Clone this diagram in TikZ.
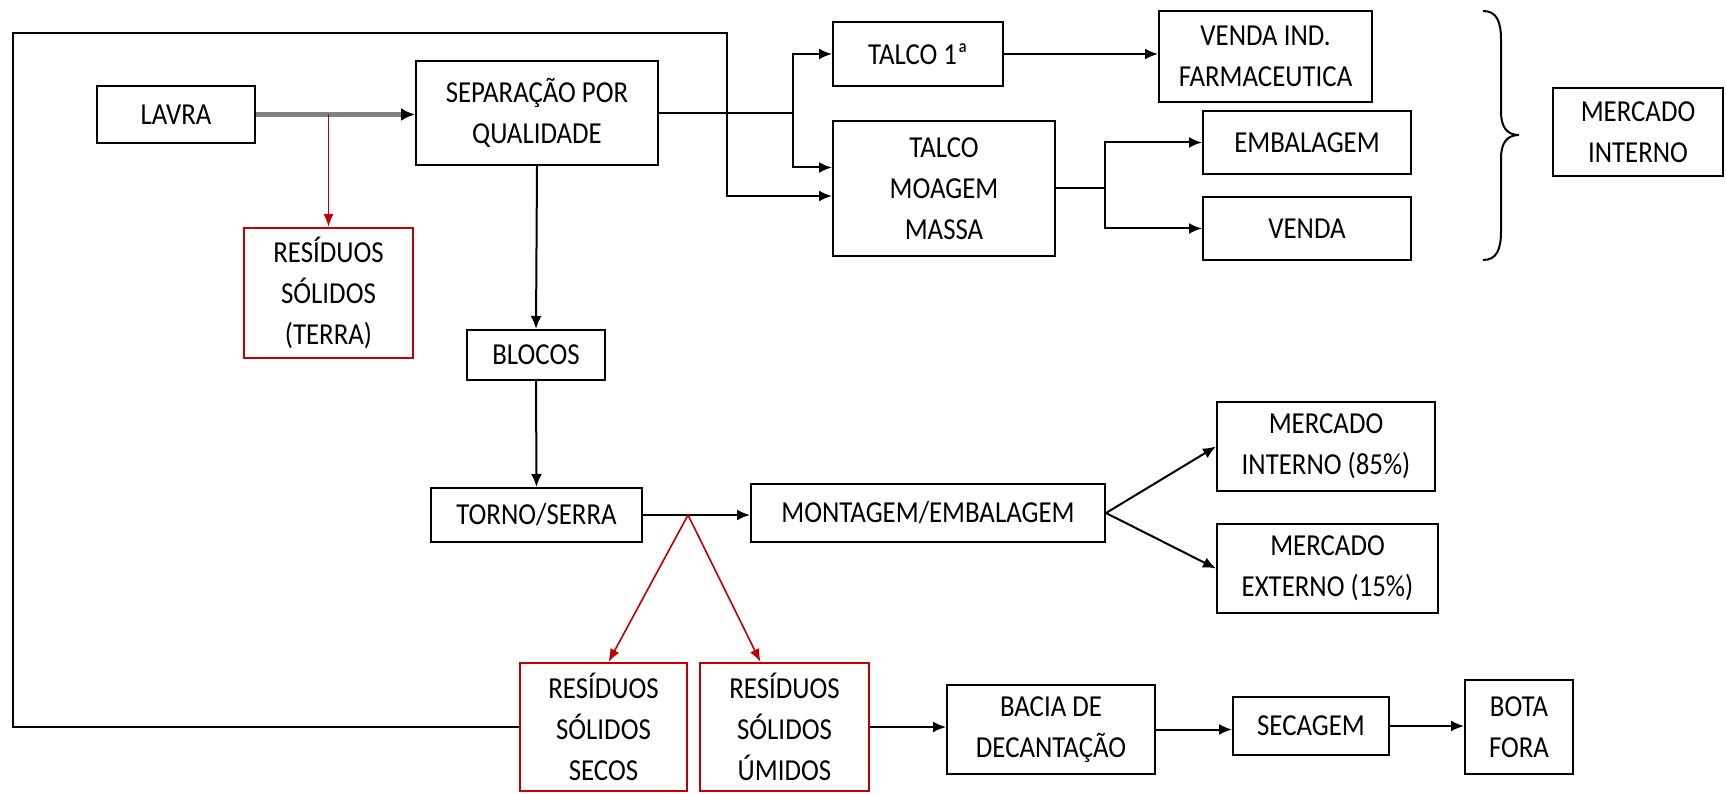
\documentclass[tikz,border=0pt]{standalone}
\usepackage{fontspec}
\setmainfont{Carlito}[FakeStretch=0.88]
\usetikzlibrary{arrows.meta,calc}
\definecolor{resred}{RGB}{192,0,0}
\begin{document}
\begin{tikzpicture}[x=1pt,y=-1pt,
  box/.style={draw=black,line width=2pt,inner sep=0pt,align=center,
    font=\fontsize{30.5}{41}\selectfont},
  redbox/.style={box,draw=resred},
  arr/.style={line width=2pt,-{Latex[length=13pt,width=11pt]}},
  plain/.style={line width=2pt},
  grayarr/.style={line width=4.5pt,draw=gray,-{Latex[length=14pt,width=13pt,color=black]}},
  redarr/.style={line width=1.6pt,draw=resred,-{Latex[length=13pt,width=10pt,color=resred]}}]
\useasboundingbox (0,0) rectangle (1726,794);

% process boxes
\node[box,minimum width=158pt,minimum height=57pt] (lavra) at (176,114.5) {LAVRA};
\node[box,minimum width=242pt,minimum height=104pt] (sep) at (537,113) {SEPARAÇÃO POR\\QUALIDADE};
\node[redbox,minimum width=169pt,minimum height=130pt] (terra) at (328.5,293) {RESÍDUOS\\SÓLIDOS\\(TERRA)};
\node[box,minimum width=138pt,minimum height=50pt] (blocos) at (536,355) {BLOCOS};
\node[box,minimum width=211pt,minimum height=54pt] (torno) at (536.5,515) {TORNO/SERRA};
\node[box,minimum width=354pt,minimum height=58pt] (mont) at (928,513) {MONTAGEM/EMBALAGEM};
\node[box,minimum width=218pt,minimum height=89pt] (mi85) at (1326,446.5) {MERCADO\\INTERNO (85\%)};
\node[box,minimum width=221pt,minimum height=89pt] (me15) at (1327.5,568.5) {MERCADO\\EXTERNO (15\%)};
\node[redbox,minimum width=167pt,minimum height=128pt] (secos) at (603.5,727) {RESÍDUOS\\SÓLIDOS\\SECOS};
\node[redbox,minimum width=169pt,minimum height=128pt] (umidos) at (784.5,727) {RESÍDUOS\\SÓLIDOS\\ÚMIDOS};
\node[box,minimum width=208pt,minimum height=89pt] (bacia) at (1051,729.5) {BACIA DE\\DECANTAÇÃO};
\node[box,minimum width=156pt,minimum height=58pt] (secagem) at (1311,726) {SECAGEM};
\node[box,minimum width=108pt,minimum height=94pt] (bota) at (1519,727) {BOTA\\FORA};
\node[box,minimum width=170pt,minimum height=64pt] (talco1) at (918,54) {TALCO 1ª};
\node[box,minimum width=213pt,minimum height=91pt] (vendaind) at (1265.5,56.5) {VENDA IND.\\FARMACEUTICA};
\node[box,minimum width=222pt,minimum height=135pt] (talcom) at (944,188.5) {TALCO\\MOAGEM\\MASSA};
\node[box,minimum width=208pt,minimum height=63pt] (embal) at (1307,142.5) {EMBALAGEM};
\node[box,minimum width=208pt,minimum height=63pt] (venda) at (1307,228.5) {VENDA};
\node[box,minimum width=170pt,minimum height=88pt] (mi) at (1638,132) {MERCADO\\INTERNO};

% extraction
\draw[grayarr] (lavra.east) -- (lavra.east -| sep.west);
\draw[redarr] (lavra.east -| terra.north) -- (terra.north);

% sorting branch to talc products
\coordinate (b1) at (793,113);
\draw[plain] (sep.east) -- (b1);
\draw[arr] (b1) |- (talco1.west);
\draw[arr] (b1) |- ($(talcom.west)+(0,-21)$);
\draw[arr] (talco1.east) -- (talco1.east -| vendaind.west);
\coordinate (b2) at (1105,188.5);
\draw[plain] (talcom.east) -- (b2);
\draw[arr] (b2) |- (embal.west);
\draw[arr] (b2) |- (venda.west);

% blocks line
\draw[arr] (sep.south) -- (blocos.north);
\draw[arr] (blocos.south) -- (torno.north);
\draw[arr] (torno.east) -- (torno.east -| mont.west);
\draw[arr] (mont.east) -- (mi85.west);
\draw[arr] (mont.east) -- (me15.west);

% residues from turning/sawing
\coordinate (j) at (688,515);
\draw[redarr] (j) -- ($(secos.north)+(5,0)$);
\draw[redarr] (j) -- ($(umidos.north)+(-24,0)$);
\draw[arr] (umidos.east) -- (umidos.east -| bacia.west);
\draw[arr] (bacia.east) -- (bacia.east -| secagem.west);
\draw[arr] (secagem.east) -- (secagem.east -| bota.west);

% dry residues returned to grinding
\draw[arr] (secos.west) -- (13,727) -- (13,33) -- (727,33) |- ($(talcom.west)+(0,7.5)$);

% brace grouping the internal market products
\draw[line width=2pt] (1483,11) .. controls (1497,11) and (1501,22) .. (1501,40)
  -- (1501,112) .. controls (1501,127) and (1507,135) .. (1519,135)
  .. controls (1507,135) and (1501,143) .. (1501,158)
  -- (1501,231) .. controls (1501,249) and (1497,260) .. (1483,260);
\end{tikzpicture}
\end{document}
